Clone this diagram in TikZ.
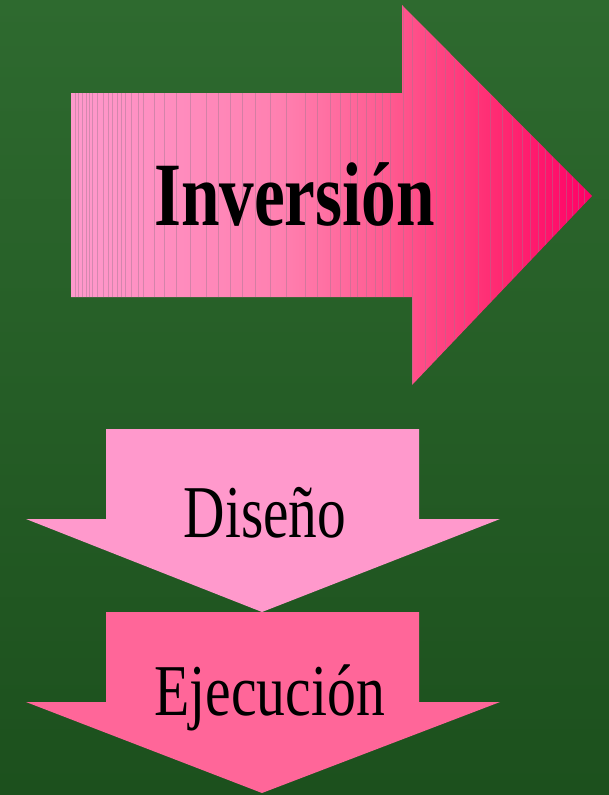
\documentclass[tikz,border=0pt]{standalone}
\usepackage{fontspec}
\setmainfont{Liberation Serif}
\usepackage{graphicx}
\definecolor{bgtop}{HTML}{2E6A2F}
\definecolor{bgbot}{HTML}{1C501D}
\definecolor{pinklight}{HTML}{FF99CC}
\definecolor{pinkA}{HTML}{FF80B0}
\definecolor{pinkB}{HTML}{FF5A90}
\definecolor{pinkC}{HTML}{FF2A72}
\definecolor{pinkdeep}{HTML}{FF0066}
\definecolor{pinkexec}{HTML}{FF6699}
\definecolor{stripe}{HTML}{A07890}
\pgfdeclarehorizontalshading{invshade}{100bp}{color(0bp)=(pinklight); color(25bp)=(pinklight); color(45bp)=(pinkA); color(55.5bp)=(pinkB); color(66bp)=(pinkC); color(75bp)=(pinkdeep); color(100bp)=(pinkdeep)}
\tikzset{
  lbl/.style={inner sep=0pt, anchor=base, text=black},
}
\begin{document}
\begin{tikzpicture}[x=1pt,y=-1pt]
\useasboundingbox (0,0) rectangle (609,795);
\shade[top color=bgtop, bottom color=bgbot] (0,0) rectangle (609,795);
% big right arrow
\shade[shading=invshade]
  (71,93) -- (402,93) -- (402,5) -- (592,196) -- (412,385) -- (412,297) -- (71,297) -- cycle;
\begin{scope}
\clip (71,93) -- (402,93) -- (402,5) -- (592,196) -- (412,385) -- (412,297) -- (71,297) -- cycle;
\foreach \xx in {75,78,82,86,89,92,97,103,108,112,117,121,125,131,138,143,154,164,176,190,206,218,230,242,255,270,286,305,317,330,340,350,357,366,375,382,390,403,412,425,436,445,454,464,478,490,502,512,522,530,538,545,552,559,566,572,578,584}
  \draw[stripe, opacity=0.45, line width=0.5pt] (\xx,0) -- (\xx,400);
\end{scope}
% Diseño arrow
\fill[pinklight] (106,429) -- (419,429) -- (419,519) -- (500,519) -- (262,612) -- (26,519) -- (106,519) -- cycle;
% Ejecución arrow
\fill[pinkexec] (106,612) -- (419,612) -- (419,702) -- (500,702) -- (262,793) -- (26,702) -- (106,702) -- cycle;
% labels
\node[lbl] (inv) at (294.5,225) {\scalebox{0.765}[1]{\fontsize{90.5}{90.5}\selectfont\bfseries Inversión}};
\node[lbl] (dis) at (265,537) {\scalebox{0.77}[1]{\fontsize{74.5}{74.5}\selectfont Diseño}};
\node[lbl] (eje) at (269.5,715) {\scalebox{0.79}[1]{\fontsize{73}{73}\selectfont Ejecución}};
\end{tikzpicture}
\end{document}
